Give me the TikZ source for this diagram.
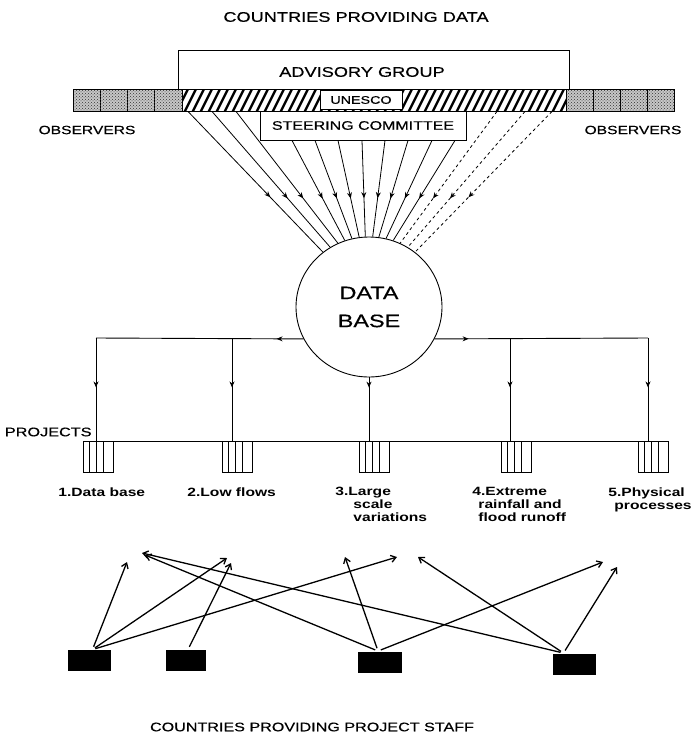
\documentclass[tikz,border=0pt]{standalone}
\usepackage{fontspec}
\setmainfont{Liberation Sans}
\newfontfamily\lbl[FakeStretch=1.3, FakeBold=0.5]{Liberation Sans}
\newfontfamily\plbl[FakeStretch=1.3]{Liberation Sans}
\usetikzlibrary{arrows.meta, shapes.geometric, decorations.markings, patterns}

\begin{document}
\begin{tikzpicture}[x=1pt, y=-1pt, line width=0.9pt,
  lbl/.style={font=\lbl\fontsize{#1}{#1}\selectfont, inner sep=0pt},
  plabel/.style={font=\plbl\bfseries\fontsize{12}{13}\selectfont, inner sep=0pt, anchor=north west, align=left},
  midtip/.style={postaction={decorate}, decoration={markings, mark=at position #1 with {\arrow{Stealth[length=6pt,width=5pt]}}}},
  fan/.style={line width=0.8pt},
  cell/.style={fill=black!22, postaction={pattern=crosshatch dots, pattern color=black!80}},
  projbox/.style={draw, anchor=north west, minimum width=30pt, minimum height=31pt, inner sep=0pt,
    path picture={\foreach \f in {6,13,20}
      \draw[line width=0.8pt] ([xshift=\f pt]path picture bounding box.north west) -- ([xshift=\f pt]path picture bounding box.south west);}},
  staff/.style={fill=black, inner sep=0pt, minimum height=21pt},
  staffarrow/.style={line width=1.3pt, -{Straight Barb[length=5pt,width=7pt]}, shorten <=3pt}]
  \useasboundingbox (0,0) rectangle (697,737);
  % titles
  \node[lbl=14] (top) at (356,17) {COUNTRIES PROVIDING DATA};
  \node[lbl=12.4] (bot) at (312,727) {COUNTRIES PROVIDING PROJECT STAFF};
  % advisory group frame
  \draw (178,89) -- (178,50) -- (569,50) -- (569,89);
  \node[lbl=14] (adv) at (362,72) {ADVISORY GROUP};
  % observer cells
  \foreach \x in {73,100,127,154}
    \draw[cell] (\x,89) rectangle ++(28,22);
  \foreach \x in {566,593,620,647}
    \draw[cell] (\x,89) rectangle ++(27,22);
  % hatched member band
  \begin{scope}
    \clip (182,89) rectangle (566,111);
    \foreach \x in {168,176,...,566}
      \draw[line width=2.3pt] (\x,113) -- ++(13,-26);
  \end{scope}
  \node[draw, minimum width=601pt, minimum height=22pt, inner sep=0pt] (bar) at (373.5,100) {};
  \node[draw, fill=white, lbl=11, minimum width=82pt, minimum height=19pt] (unesco) at (361,100) {UNESCO};
  \node[draw, fill=white, lbl=12.3, minimum width=206pt, minimum height=29pt] (steer) at (363,125.5) {STEERING COMMITTEE};
  \node[lbl=12] (obsl) at (87,130) {OBSERVERS};
  \node[lbl=12] (obsr) at (633,130) {OBSERVERS};
  % data base
  \node[draw, ellipse, minimum width=146pt, minimum height=140pt, inner sep=0pt, align=center,
    font=\lbl\fontsize{18}{28}\selectfont] (db) at (369,307) {DATA\\BASE};
  % data flows into the data base
  \foreach \x/\a/\t in {188/130/0.61, 212/123/0.64, 236/116/0.66}
    \draw[fan, midtip=\t] (\x,0 |- bar.south) -- (db.\a);
  \foreach \x/\a/\t in {292/110/0.58, 315/104/0.59, 338/98/0.6, 362/93/0.6, 385/87/0.6, 408/82/0.6, 432/76/0.59, 455/70/0.58}
    \draw[fan, midtip=\t] (\x,0 |- steer.south) -- (db.\a);
  \foreach \x/\a/\t in {497/64/0.66, 525/57/0.64, 552/50/0.61}
    \draw[fan, dashed, midtip=\t] (\x,0 |- bar.south) -- (db.\a);
  % projects
  \foreach \n/\x in {1/83,2/222,3/359,4/501,5/638}
    \node[projbox] (p\n) at (\x,441) {};
  \draw (p1.north west) -- (p5.north east);
  \node[lbl=12.5, anchor=east] (projlbl) at (92,432) {PROJECTS};
  \coordinate (jl) at (96,338);
  \coordinate (jm1) at (232,338);
  \coordinate (jm2) at (510,338);
  \coordinate (jr) at (648,338);
  \draw[midtip=0.13] (db.206) -- (jl);
  \draw[midtip=0.16] (db.334) -- (jr);
  \foreach \c in {jl,jm1,jm2,jr}
    \draw[midtip=0.48] (\c) -- (\c |- p1.north);
  \draw[midtip=0.16] (db.south) -- (db.south |- p3.north);
  \node[plabel] (l1) at (58,487) {1.Data base};
  \node[plabel] (l2) at (187,487) {2.Low flows};
  \node[plabel] (l3) at (335,487) {3.Large\\\hspace{18pt}scale\\\hspace{18pt}variations};
  \node[plabel] (l4) at (472,487) {4.Extreme\\\hspace{6pt}rainfall and\\\hspace{6pt}flood runoff};
  \node[plabel] (l5) at (608,487) {5.Physical\\\hspace{6pt}processes};
  % countries providing staff
  \node[staff, minimum width=43pt] (sA) at (89.5,660.5) {};
  \node[staff, minimum width=40pt] (sB) at (186,660.5) {};
  \node[staff, minimum width=44pt] (sC) at (380,662) {};
  \node[staff, minimum width=43pt] (sD) at (574.5,664) {};
  \coordinate (a1) at (127,562);
  \coordinate (a2) at (227,558);
  \coordinate (a3) at (397,557);
  \coordinate (b1) at (231,563);
  \coordinate (c1) at (345,557);
  \coordinate (c2) at (145,555);
  \coordinate (c3) at (603,562);
  \coordinate (d1) at (418,557);
  \coordinate (d2) at (142,553);
  \coordinate (d3) at (617,567);
  \foreach \t in {a1,a2,a3}
    \draw[staffarrow] ([xshift=3pt]sA.north) -- (\t);
  \draw[staffarrow] ([xshift=2pt]sB.north) -- (b1);
  \foreach \t in {c1,c2,c3}
    \draw[staffarrow] ([xshift=-2pt]sC.north) -- (\t);
  \foreach \t in {d1,d2,d3}
    \draw[staffarrow] ([xshift=-11pt]sD.north) -- (\t);
\end{tikzpicture}
\end{document}
